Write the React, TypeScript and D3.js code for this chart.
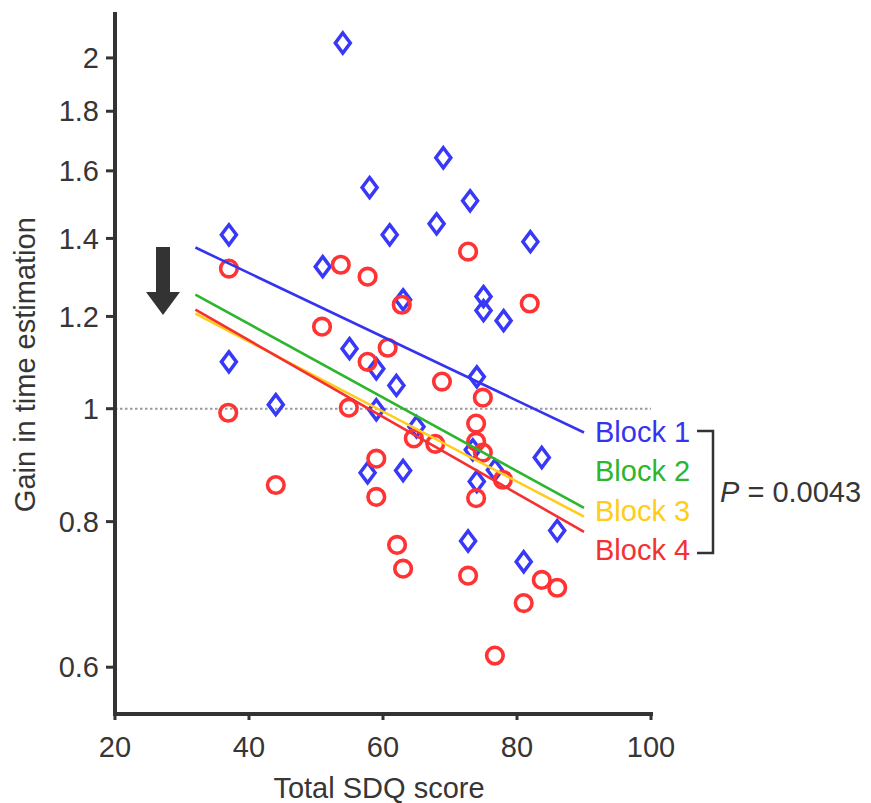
import React from "react";
import * as d3 from "d3";

// ---- data ----
const xTicks = [20, 40, 60, 80, 100];
const yTicks = [0.6, 0.8, 1, 1.2, 1.4, 1.6, 1.8, 2];
const yTickLabels = ["0.6", "0.8", "1", "1.2", "1.4", "1.6", "1.8", "2"];

// Block 1 (blue diamonds)
const block1X = [54, 37, 37, 44, 51, 58, 61, 69, 73, 68, 82, 63, 75, 75, 78, 55, 59, 62, 74, 59, 65, 73.4, 76.7, 83.7, 57.7, 63, 74, 86, 72.7, 81];
const block1Y = [2.06, 1.41, 1.097, 1.008, 1.324, 1.548, 1.41, 1.642, 1.508, 1.441, 1.391, 1.24, 1.248, 1.214, 1.19, 1.126, 1.082, 1.047, 1.065, 0.998, 0.965, 0.922, 0.886, 0.908, 0.881, 0.885, 0.866, 0.786, 0.77, 0.739];

// Block 4 (red circles)
const block4X = [37, 53.7, 57.7, 72.7, 62.8, 81.9, 50.9, 60.7, 57.7, 68.8, 74.9, 54.9, 36.9, 73.9, 64.6, 67.8, 73.9, 74.9, 77.9, 59, 44, 59, 73.9, 62.1, 63, 72.7, 83.7, 86, 81, 76.7];
const block4Y = [1.319, 1.329, 1.298, 1.364, 1.228, 1.231, 1.176, 1.128, 1.097, 1.055, 1.022, 1.002, 0.992, 0.971, 0.943, 0.933, 0.937, 0.917, 0.869, 0.906, 0.86, 0.84, 0.838, 0.764, 0.729, 0.719, 0.713, 0.702, 0.681, 0.614];

// Regression fits
const blockNames = ["Block 1", "Block 2", "Block 3", "Block 4"];
const blockColors = ["#3434F0", "#2DB52D", "#FFCC1A", "#F53030"];
const fitX = [32, 90];
const fitStart = [1.375, 1.253, 1.207, 1.216];
const fitEnd = [0.954, 0.822, 0.808, 0.784];
const drawOrder = [0, 1, 2, 3];

const pLabel = "0.0043";

const FONT = "'Liberation Sans', Arial, sans-serif";
const TXT = "#363636";
const FS = 29;

export default function App() {
  const x = d3.scaleLinear().domain([20, 100]).range([115, 651]);
  const y = d3.scaleLog().domain([0.547, 2.19]).range([714, 12]);

  const line = d3
    .line<[number, number]>()
    .x((d) => x(d[0]))
    .y((d) => y(d[1]));

  const diamond = (cx: number, cy: number) =>
    `M${cx},${cy - 10}L${cx + 7.5},${cy}L${cx},${cy + 10}L${cx - 7.5},${cy}Z`;

  const legendX = 595;
  const legendY0 = 442;
  const legendDy = 39.3;

  return (
    <svg
      width={871}
      height={803}
      style={{ position: "absolute", left: 0, top: 0, display: "block", background: "#fff" }}
      fontFamily={FONT}
    >
      {/* reference line at 1 */}
      <line
        x1={x(20)}
        x2={x(100)}
        y1={y(1)}
        y2={y(1)}
        stroke="#999"
        strokeWidth={2}
        strokeDasharray="2.5,2.5"
      />

      {/* block 1 diamonds */}
      {block1X.map((v, i) => (
        <path
          key={"d" + i}
          d={diamond(x(v), y(block1Y[i]))}
          fill="none"
          stroke="#3838F8"
          strokeWidth={3.5}
          strokeLinejoin="miter"
        />
      ))}
      {/* block 4 circles */}
      {block4X.map((v, i) => (
        <circle
          key={"c" + i}
          cx={x(v)}
          cy={y(block4Y[i])}
          r={8.3}
          fill="none"
          stroke="#FF3333"
          strokeWidth={3.6}
        />
      ))}

      {/* fits */}
      {drawOrder.map((k) => (
        <path
          key={"f" + k}
          d={line([
            [fitX[0], fitStart[k]],
            [fitX[1], fitEnd[k]],
          ])!}
          fill="none"
          stroke={blockColors[k]}
          strokeWidth={2.6}
        />
      ))}

      {/* axes */}
      <g stroke="#333" strokeLinecap="butt">
        <line x1={115} x2={115} y1={12} y2={716} strokeWidth={4} />
        <line x1={113} x2={x(100) + 2} y1={714} y2={714} strokeWidth={4} />
        {yTicks.map((t) => (
          <line key={"yt" + t} x1={106} x2={115} y1={y(t)} y2={y(t)} strokeWidth={3} />
        ))}
        {xTicks.map((t) => (
          <line key={"xt" + t} x1={x(t)} x2={x(t)} y1={714} y2={720} strokeWidth={3} />
        ))}
      </g>
      {yTicks.map((t, i) => (
        <text
          key={"yl" + t}
          x={99}
          y={y(t)}
          dy="0.35em"
          textAnchor="end"
          fontSize={FS}
          fill={TXT}
        >
          {yTickLabels[i]}
        </text>
      ))}
      {xTicks.map((t) => (
        <text key={"xl" + t} x={x(t)} y={757} textAnchor="middle" fontSize={FS} fill={TXT}>
          {t}
        </text>
      ))}
      <text x={379} y={798} textAnchor="middle" fontSize={FS} fill={TXT}>
        Total SDQ score
      </text>
      <text
        transform={`translate(35,${y(1) - 44}) rotate(-90)`}
        textAnchor="middle"
        fontSize={FS}
        fill={TXT}
      >
        Gain in time estimation
      </text>

      {/* arrow */}
      <path d="M156,247H170V292H180L163,315L146,292H156Z" fill="#333" />

      {/* legend */}
      {blockNames.map((n, i) => (
        <text
          key={n}
          x={legendX}
          y={legendY0 + i * legendDy}
          fontSize={FS}
          fill={blockColors[i]}
        >
          {n}
        </text>
      ))}
      <path d="M697,431H713V553H697" fill="none" stroke="#333" strokeWidth={2.5} />
      <text x={720} y={502} fontSize={FS} fill={TXT}>
        <tspan fontStyle="italic">P</tspan>
        <tspan> = {pLabel}</tspan>
      </text>
    </svg>
  );
}
